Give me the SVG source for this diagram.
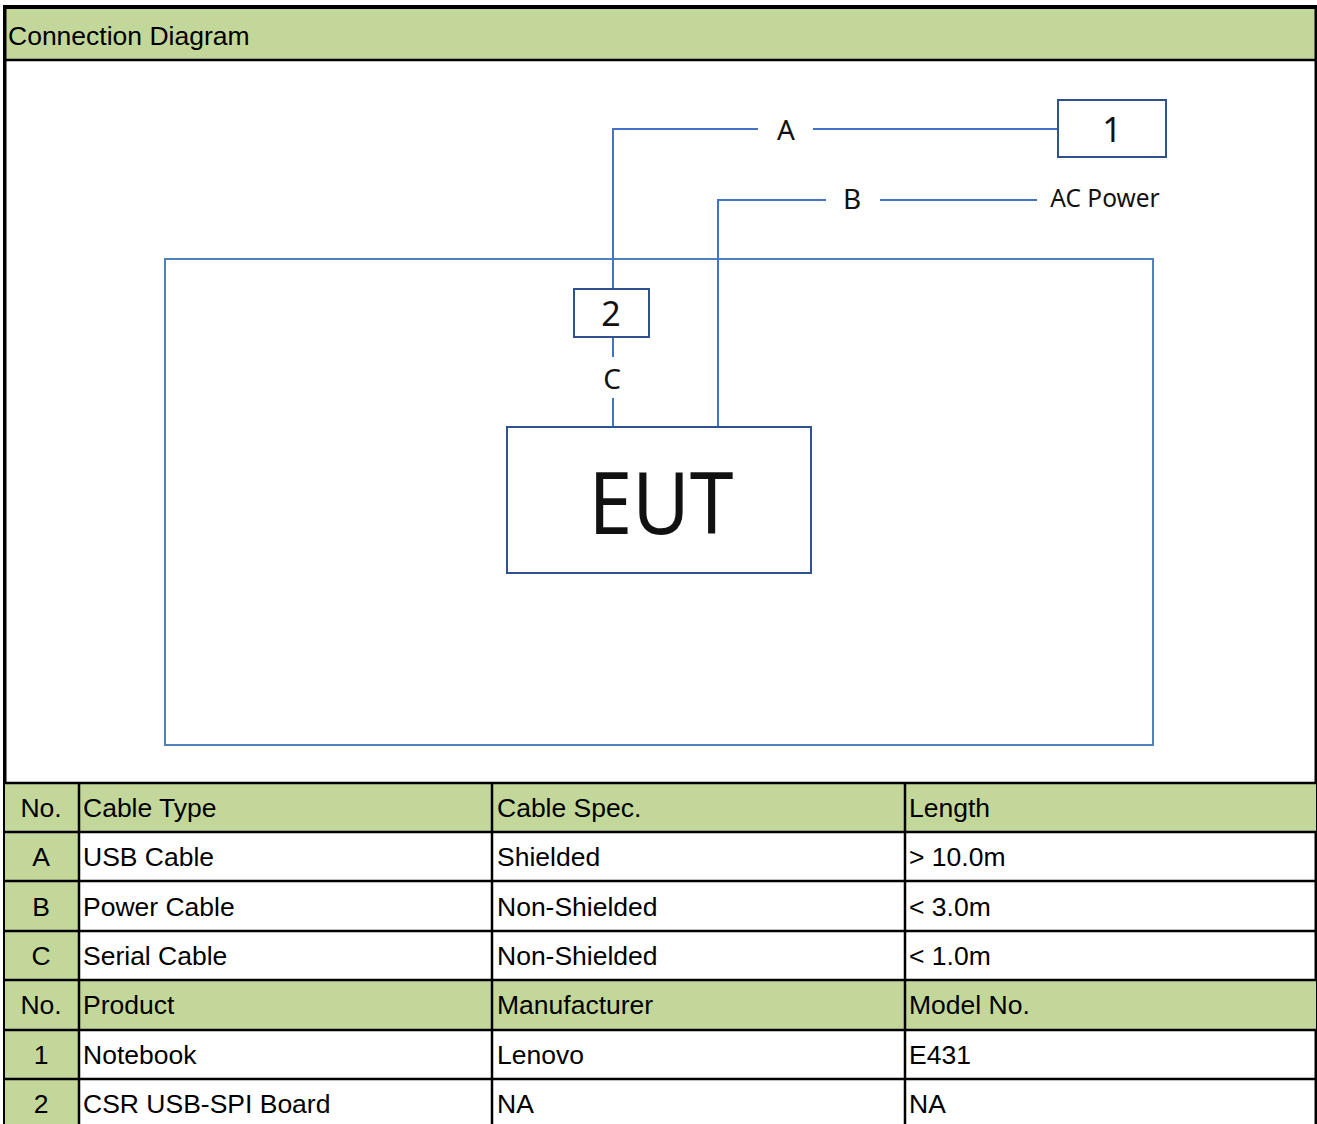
<svg xmlns="http://www.w3.org/2000/svg" width="1317" height="1124" viewBox="0 0 1317 1124">
<style>
.tt{font-family:"Liberation Sans",Arial,sans-serif;font-size:26.5px;fill:#000}
.c{text-anchor:middle}
.dl{font-family:"Noto Sans","Open Sans",sans-serif;fill:#111;text-anchor:middle}
.wire{stroke:#4472C4;stroke-width:2;fill:none}
.box{stroke:#2F528F;stroke-width:2;fill:#fff}
.grid{stroke:#000;stroke-width:2.5}
.green{fill:#C4D79B}
</style>
<rect x="0" y="0" width="1317" height="1124" fill="#fff"/>
<!-- header -->
<g id="header">
<rect class="green" x="5" y="8" width="1311" height="52"/>
<text class="tt" x="8" y="45">Connection Diagram</text>
</g>
<!-- frame -->
<g id="frame">
<rect x="3" y="5" width="1314" height="4" fill="#000"/>
<rect x="3" y="5" width="3.5" height="1119" fill="#000"/>
<rect x="1314.5" y="5" width="2.5" height="1119" fill="#000"/>
<line x1="4" y1="60" x2="1317" y2="60" stroke="#000" stroke-width="2.5"/>
</g>
<!-- diagram -->
<g id="area">
<rect x="165" y="259" width="988" height="486" fill="none" stroke="#4F81BD" stroke-width="2"/>
</g>
<g id="connectors">
<polyline class="wire" points="758,129 613,129 613,289"/>
<line class="wire" x1="813" y1="129" x2="1058" y2="129"/>
<text class="dl" x="786" y="140" font-size="28">A</text>
<polyline class="wire" points="826,200 718,200 718,427"/>
<line class="wire" x1="880" y1="200" x2="1037" y2="200"/>
<text class="dl" x="852" y="209" font-size="28">B</text>
<line class="wire" x1="613" y1="337" x2="613" y2="357"/>
<line class="wire" x1="613" y1="398" x2="613" y2="427"/>
<text class="dl" x="612" y="389" font-size="28">C</text>
<text class="dl" x="1105" y="207" font-size="24.5">AC Power</text>
</g>
<g id="node1">
<rect class="box" x="1058" y="100" width="108" height="57"/>
<text class="dl" x="1112" y="142" font-size="34">1</text>
</g>
<g id="node2">
<rect class="box" x="574" y="289" width="75" height="48"/>
<text class="dl" x="611" y="326" font-size="34">2</text>
</g>
<g id="eut">
<rect class="box" x="507" y="427" width="304" height="146"/>
<text class="dl" x="661" y="534" font-size="86" textLength="145" lengthAdjust="spacingAndGlyphs">EUT</text>
</g>
<!-- table -->
<g id="table">
<rect class="green" x="5" y="783" width="1311" height="49"/>
<rect class="green" x="5" y="980" width="1311" height="50"/>
<rect class="green" x="5" y="832" width="74" height="148"/>
<rect class="green" x="5" y="1030" width="74" height="94"/>
<line class="grid" x1="4" y1="783" x2="1317" y2="783" stroke-width="3"/>
<line class="grid" x1="4" y1="832" x2="1317" y2="832"/>
<line class="grid" x1="4" y1="881" x2="1317" y2="881"/>
<line class="grid" x1="4" y1="931" x2="1317" y2="931"/>
<line class="grid" x1="4" y1="980" x2="1317" y2="980"/>
<line class="grid" x1="4" y1="1030" x2="1317" y2="1030"/>
<line class="grid" x1="4" y1="1079" x2="1317" y2="1079"/>
<line class="grid" x1="79" y1="783" x2="79" y2="1124"/>
<line class="grid" x1="492" y1="783" x2="492" y2="1124"/>
<line class="grid" x1="905" y1="783" x2="905" y2="1124"/>
<text class="tt c" x="41" y="817">No.</text>
<text class="tt" x="83" y="817">Cable Type</text>
<text class="tt" x="497" y="817">Cable Spec.</text>
<text class="tt" x="909" y="817">Length</text>
<text class="tt c" x="41" y="866">A</text>
<text class="tt" x="83" y="866">USB Cable</text>
<text class="tt" x="497" y="866">Shielded</text>
<text class="tt" x="909" y="866">&gt; 10.0m</text>
<text class="tt c" x="41" y="916">B</text>
<text class="tt" x="83" y="916">Power Cable</text>
<text class="tt" x="497" y="916">Non-Shielded</text>
<text class="tt" x="909" y="916">&lt; 3.0m</text>
<text class="tt c" x="41" y="965">C</text>
<text class="tt" x="83" y="965">Serial Cable</text>
<text class="tt" x="497" y="965">Non-Shielded</text>
<text class="tt" x="909" y="965">&lt; 1.0m</text>
<text class="tt c" x="41" y="1014">No.</text>
<text class="tt" x="83" y="1014">Product</text>
<text class="tt" x="497" y="1014">Manufacturer</text>
<text class="tt" x="909" y="1014">Model No.</text>
<text class="tt c" x="41" y="1064">1</text>
<text class="tt" x="83" y="1064">Notebook</text>
<text class="tt" x="497" y="1064">Lenovo</text>
<text class="tt" x="909" y="1064">E431</text>
<text class="tt c" x="41" y="1113">2</text>
<text class="tt" x="83" y="1113">CSR USB-SPI Board</text>
<text class="tt" x="497" y="1113">NA</text>
<text class="tt" x="909" y="1113">NA</text>
</g>
</svg>
